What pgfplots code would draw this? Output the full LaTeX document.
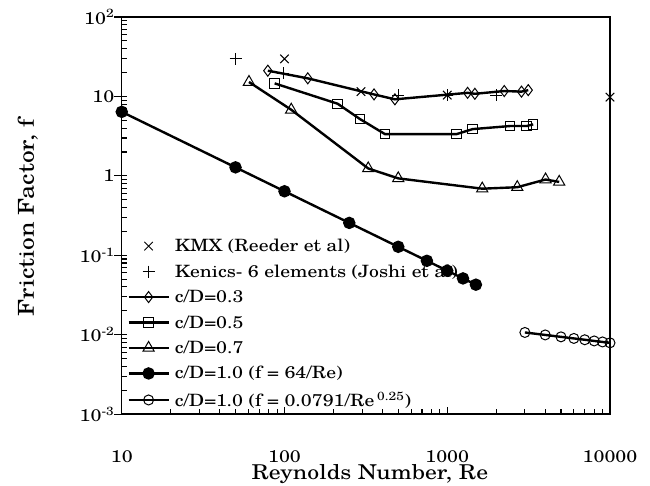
\documentclass[border=0pt]{standalone}
\usepackage{pgfplots}
\pgfplotsset{compat=1.18}
\usepackage{fontspec}
\setmainfont[FakeStretch=1.16]{TeX Gyre Schola}
\usetikzlibrary{calc}
\pgfplotsset{
    legline/.style={legend image code/.code={\draw[mark repeat=2,mark phase=2,##1] plot coordinates {(0bp,0bp) (20bp,0bp) (40bp,0bp)};}},
    legmark/.style={legend image code/.code={\draw[only marks,mark repeat=2,mark phase=2,##1] plot coordinates {(0bp,0bp) (20bp,0bp) (40bp,0bp)};}},
}

\begin{document}
\begin{tikzpicture}
\begin{loglogaxis}[
    scale only axis,
    width=488bp, height=397bp,
    xmin=10, xmax=10000,
    ymin=0.001, ymax=100,
    axis line style={line width=1.4bp},
    xtick={10,100,1000,10000},
    xticklabels={10,100,1000,10000},
    ytick={0.001,0.01,0.1,1,10,100},
    yticklabels={10\textsuperscript{-3},10\textsuperscript{-2},10\textsuperscript{-1},1,10,10\textsuperscript{2}},
    tick pos=left,
    tick align=inside,
    major tick length=7.5bp,
    minor tick length=5.5bp,
    tick style={line width=1.1bp, black},
    major y tick style={xshift=-7.5bp},
    xticklabel style={font=\fontsize{17}{20}\selectfont, anchor=center, yshift=-42bp},
    yticklabel style={font=\fontsize{17}{20}\selectfont, xshift=-4bp},
    xlabel={Reynolds Number, Re},
    xlabel style={font=\fontsize{20.5}{24}\selectfont, at={($(rel axis cs:0.5,0)+(4bp,-60bp)$)}, anchor=center},
    every axis plot/.append style={black, line width=2.4bp},
    mark options={solid, line width=1bp, fill=white},
    legline,
    legend style={at={(0.005,0.005)}, anchor=south west, draw=none, fill=none,
        font=\fontsize{17}{20}\selectfont, row sep=7.5bp,
        /tikz/every odd column/.append style={column sep=3bp}},
    legend cell align=left,
]
\coordinate (sw) at (rel axis cs:0,0);
\coordinate (ne) at (rel axis cs:1,1);
\coordinate (wmid) at (rel axis cs:0,0.5);

% KMX (Reeder et al)
\addplot[only marks, legmark, mark=x, mark size=6bp] coordinates {
    (100,29.7) (295,11.5) (1000,10.4) (10000,9.8)
};
% Kenics, 6 elements (Joshi et al)
\addplot[only marks, legmark, mark=+, mark size=6bp] coordinates {
    (50,29.7) (98.5,19.7) (500,10.4) (1000,10.4) (2000,10.4)
};
% c/D = 0.3
\addplot[mark=diamond, mark size=5.5bp] coordinates {
    (79,21.1) (139,16.9) (355,10.6) (477,9.2) (1334,11.1) (1479,10.8)
    (2240,11.7) (2860,11.5) (3146,12.0)
};
% c/D = 0.5
\addplot[mark=square, mark size=4.7bp] coordinates {
    (87,14.6) (212,8.1) (291,5.19) (414,3.36) (1143,3.36) (1432,3.88)
    (2426,4.24) (3076,4.24) (3375,4.45)
};
% c/D = 0.7
\addplot[mark=triangle, mark size=6.5bp] coordinates {
    (60.5,15.2) (110,6.8) (327,1.24) (500,0.93) (1641,0.69) (2693,0.72)
    (4018,0.90) (4874,0.84)
};
% c/D = 1.0, laminar
\addplot[mark=*, mark size=5bp, mark options={fill=black}] coordinates {
    (10,6.4) (50,1.28) (100,0.64) (250,0.256) (500,0.128) (750,0.0853)
    (1000,0.064) (1250,0.0512) (1500,0.0427)
};
% c/D = 1.0, Blasius
\addplot[mark=o, mark size=5bp] coordinates {
    (3000,0.01069) (4000,0.00995) (5000,0.00941) (6000,0.00899)
    (7000,0.00865) (8000,0.00836) (9000,0.00812) (10000,0.00791)
};
\legend{KMX (Reeder et al), Kenics- 6 elements (Joshi et al), c/D=0.3, c/D=0.5, c/D=0.7,
    c/D=1.0 (f = 64/Re), c/D=1.0 (f = 0.0791/Re\,\textsuperscript{0.25})}
\end{loglogaxis}
\node[rotate=90, font=\fontsize{22}{26}\selectfont, anchor=center] at ($(wmid)+(-94bp,-2bp)$) {Friction Factor, f};
\pgfresetboundingbox
\path ($(sw)+(-121.7bp,-71bp)$) rectangle ($(ne)+(40bp,17bp)$);
\end{tikzpicture}
\end{document}
